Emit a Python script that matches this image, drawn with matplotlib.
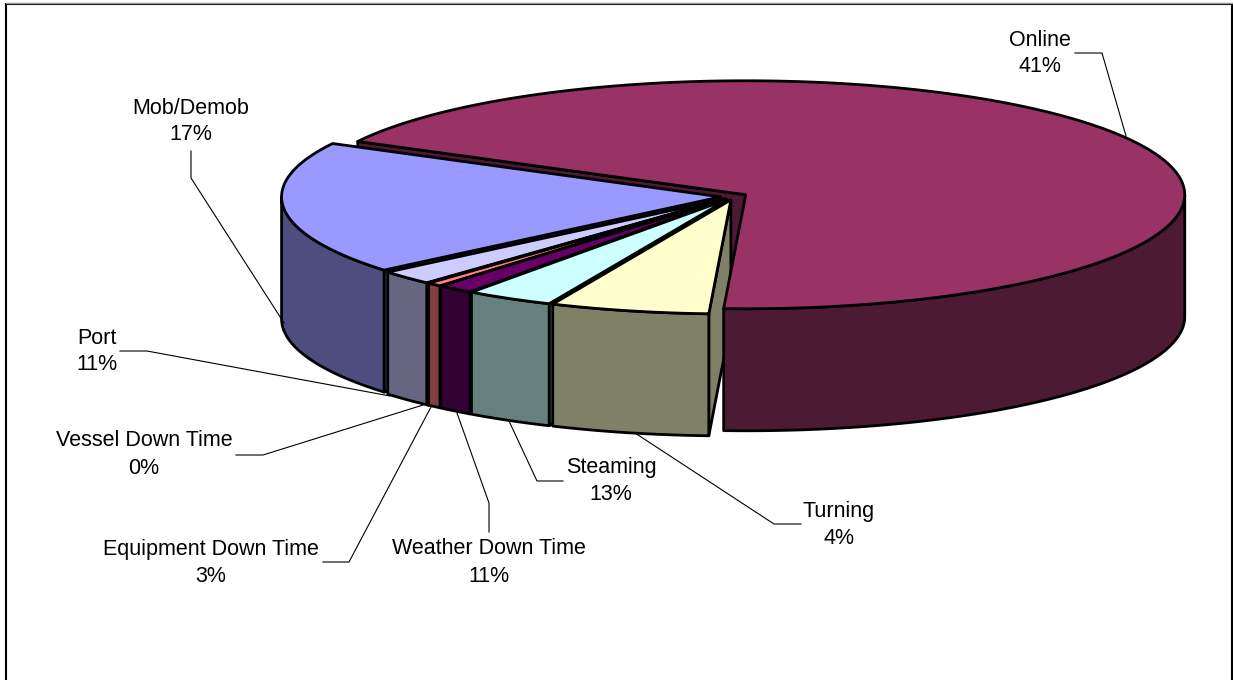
import numpy as np
import matplotlib
matplotlib.use("Agg")
import matplotlib.pyplot as plt
from matplotlib.patches import Polygon

plt.rcParams['font.family'] = ['Liberation Sans', 'DejaVu Sans']

# Data: clockwise from the Online slice's leading edge
categories = ['Online', 'Turning', 'Steaming', 'Weather Down Time',
              'Equipment Down Time', 'Vessel Down Time', 'Port', 'Mob/Demob']
label_pct = [41, 4, 13, 11, 3, 0, 11, 17]
# drawn slice sizes (% of the circle)
drawn_share = [68.05, 5.85, 3.25, 1.35, 0.55, 0.05, 2.05, 18.85]

top_colors = ['#993366', '#FFFFCC', '#CCFFFF', '#660066', '#FF8080', '#0066CC', '#CCCCFF', '#9999FF']
side_colors = ['#4D1A33', '#808066', '#668080', '#330033', '#804040', '#003366', '#666680', '#4D4D80']

# Layout (pixels)
W, H = 1233, 680
CX, CY, RX, RY = 734.0, 196.5, 439.0, 114.0
DEPTH = 122.0
EXPLODE = 13.5
START = 207.9
LW = 2.0

label_pos = {
    'Online': (1040, 40), 'Turning': (839, 511), 'Steaming': (611, 468),
    'Weather Down Time': (489, 549), 'Equipment Down Time': (211, 549),
    'Vessel Down Time': (144, 441), 'Port': (97, 338), 'Mob/Demob': (191, 108),
}
leaders = {
    'Online': [(1075, 53), (1102, 53), (1126, 136)],
    'Turning': [(801, 524), (774, 524), (635, 433)],
    'Steaming': [(563, 481), (537, 481), (509, 421)],
    'Weather Down Time': [(489, 532), (489, 503), (457, 413)],
    'Equipment Down Time': [(323, 562), (349, 562), (431, 407)],
    'Vessel Down Time': [(236, 455), (263, 455), (423, 405)],
    'Port': [(120, 351), (147, 351), (390, 396)],
    'Mob/Demob': [(191, 151), (191, 178), (284, 323)],
}

fig = plt.figure(figsize=(W / 100, H / 100), dpi=100, facecolor='white')
ax = fig.add_axes([0, 0, 1, 1])
ax.set_xlim(0, W)
ax.set_ylim(H, 0)
ax.axis('off')

# chart-area frame (open at the bottom)
ax.plot([6, 6, 1231.5, 1231.5], [H, 4, 4, H], color='black', lw=1.5, zorder=0, solid_joinstyle='miter')
ax.plot([6, 1232], [2.5, 2.5], color='#999999', lw=1, zorder=0)


def arc(ax_, ay_, a, b, n=160):
    t = np.radians(np.linspace(a, b, n))
    return np.column_stack([ax_ + RX * np.cos(t), ay_ + RY * np.sin(t)])


shares = np.array(drawn_share, dtype=float)
sweeps = shares / shares.sum() * 360
edges = START + np.concatenate([[0], np.cumsum(sweeps)])
n = len(categories)


def add(pts, color, z):
    ax.add_patch(Polygon(pts, closed=True, facecolor=color, edgecolor='black',
                         lw=LW, joinstyle='round', zorder=z))


for i in range(n):
    a, b = edges[i], edges[i + 1]
    mid = np.radians((a + b) / 2)
    apex_x = CX + EXPLODE * np.cos(mid)
    apex_y = CY + EXPLODE * RY / RX * np.sin(mid)
    apex = np.array([apex_x, apex_y])

    if i == 1:
        z_top = 4 + 2 * n
    elif i == 0:
        z_top = 3
    else:
        z_top = 4 + 2 * (n - i)

    # radial face at the slice's leading edge
    p0 = arc(apex_x, apex_y, a, a, 1)[0]
    d = np.array([0, DEPTH])
    z_face = 1 if i == 0 else (2 if i == 1 else 1.5 + (n - i) * 0.01)
    add(np.array([apex, p0, p0 + d, apex + d]), side_colors[i], z_face)

    # outer wall: only the part of the rim facing the viewer
    for k in (0, 1):
        lo = max(a, 360 * k)
        hi = min(b, 360 * k + 180)
        if hi > lo:
            rim = arc(apex_x, apex_y, lo, hi)
            add(np.vstack([rim, (rim + d)[::-1]]), side_colors[i], z_top)

    # top face
    rim = arc(apex_x, apex_y, a, b)
    add(np.vstack([apex, rim]), top_colors[i], z_top + 0.5)

for name, pct in zip(categories, label_pct):
    x, y = label_pos[name]
    ax.text(x, y, name, ha='center', va='center', fontsize=15.5, color='black', zorder=60)
    ax.text(x, y + 27, f'{pct}%', ha='center', va='center', fontsize=15.5, color='black', zorder=60)
    pts = np.array(leaders[name])
    ax.plot(pts[:, 0], pts[:, 1], color='black', lw=0.8, zorder=50)

fig.savefig('out.png', dpi=100, facecolor='white')
